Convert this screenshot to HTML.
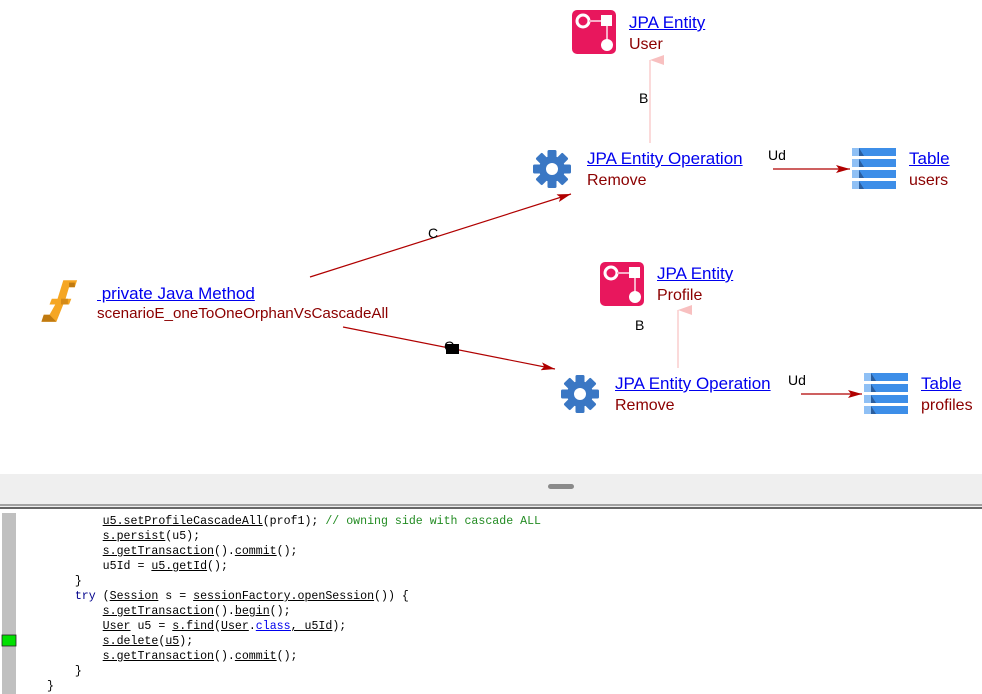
<!DOCTYPE html>
<html><head><meta charset="utf-8"><style>
body{margin:0;width:982px;height:694px;overflow:hidden;background:#fff;position:relative;font-family:"Liberation Sans",sans-serif}
.t{position:absolute;font-size:17px;white-space:nowrap;line-height:20px}
.l{color:#0000ee;text-decoration:underline}
.s{color:#8b0000;font-size:16px}
.el{position:absolute;font-size:14px;color:#000}
.code{position:absolute;font-family:"Liberation Mono",monospace;font-size:11.6px;line-height:15px;white-space:pre;color:#000}
.code u{text-decoration:underline}
</style></head><body>
<svg width="982" height="694" style="position:absolute;left:0;top:0">
<defs>
<marker id="ar" markerWidth="14" markerHeight="8" refX="14" refY="4" orient="auto" markerUnits="userSpaceOnUse"><path d="M0,0 L14,4 L0,8 L3,4 z" fill="#b00000"/></marker>
<marker id="ap" markerWidth="10" markerHeight="14" refX="5" refY="0" orient="auto-start-reverse" markerUnits="userSpaceOnUse"><path d="M0,14 L5,0 L10,14 z" fill="#f8c0c0"/></marker>
<g id="gear"><circle r="13" fill="#3a77c4"/>
<g fill="#3a77c4"><rect x="-4.5" y="-19" width="9" height="38" rx="1.5"/><rect x="-4.5" y="-19" width="9" height="38" rx="1.5" transform="rotate(45)"/><rect x="-4.5" y="-19" width="9" height="38" rx="1.5" transform="rotate(90)"/><rect x="-4.5" y="-19" width="9" height="38" rx="1.5" transform="rotate(135)"/></g>
<circle r="6" fill="#fff"/></g>
<g id="ent"><rect width="44" height="44" rx="5" fill="#e8175d"/><circle cx="11" cy="11" r="6" fill="none" stroke="#fff" stroke-width="3"/><rect x="29" y="5" width="11" height="11" fill="#fff"/><line x1="17" y1="11" x2="29" y2="11" stroke="#f8b0c8" stroke-width="2"/><line x1="35" y1="16" x2="35" y2="30" stroke="#f8b0c8" stroke-width="2"/><circle cx="35" cy="35" r="6" fill="#fff"/></g>
<g id="tab"><g><rect x="0" y="0" width="7" height="8" fill="#8fc0f5"/><rect x="7" y="0" width="37" height="8" fill="#3d8ee8"/><path d="M7,0 L12,8 L7,8z" fill="#2b5e9e"/></g>
<g transform="translate(0,11)"><rect x="0" y="0" width="7" height="8" fill="#8fc0f5"/><rect x="7" y="0" width="37" height="8" fill="#3d8ee8"/><path d="M7,0 L12,8 L7,8z" fill="#2b5e9e"/></g>
<g transform="translate(0,22)"><rect x="0" y="0" width="7" height="8" fill="#8fc0f5"/><rect x="7" y="0" width="37" height="8" fill="#3d8ee8"/><path d="M7,0 L12,8 L7,8z" fill="#2b5e9e"/></g>
<g transform="translate(0,33)"><rect x="0" y="0" width="7" height="8" fill="#8fc0f5"/><rect x="7" y="0" width="37" height="8" fill="#3d8ee8"/><path d="M7,0 L12,8 L7,8z" fill="#2b5e9e"/></g></g>
</defs>
<line x1="310" y1="277" x2="571" y2="194" stroke="#b00000" stroke-width="1.2" marker-end="url(#ar)"/>
<line x1="343" y1="327" x2="555" y2="369" stroke="#b00000" stroke-width="1.2" marker-end="url(#ar)"/>
<line x1="773" y1="169" x2="850" y2="169" stroke="#b00000" stroke-width="1.2" marker-end="url(#ar)"/>
<line x1="801" y1="394" x2="862" y2="394" stroke="#b00000" stroke-width="1.2" marker-end="url(#ar)"/>
<line x1="650" y1="143" x2="650" y2="60" stroke="#f8c0c0" stroke-width="1.2" marker-end="url(#ap)"/>
<line x1="678" y1="368" x2="678" y2="310" stroke="#f8c0c0" stroke-width="1.2" marker-end="url(#ap)"/>
<rect x="446" y="344" width="13" height="10" fill="#000"/>
<use href="#gear" x="552" y="169"/>
<use href="#gear" x="580" y="394"/>
<use href="#ent" x="572" y="10"/>
<use href="#ent" x="600" y="262"/>
<use href="#tab" x="852" y="148"/>
<use href="#tab" x="864" y="373"/>
<g transform="translate(38,278) scale(1.15)"><path d="M22,2 L34,2 L32,8 L27,8 L24,18 L29,18 L27,23 L22,23 L16,38 L3,38 L5,32 L10,32 L15,23 L10,23 L12,18 L17,18 z" fill="#f5a623"/><path d="M16,38 L3,38 L5,32 L10,32 z" fill="#c07a10"/><rect x="27" y="4" width="5" height="4" fill="#c07a10"/><rect x="20" y="18" width="6" height="5" fill="#c07a10" opacity="0.6"/></g>
<rect x="0" y="474" width="982" height="33" fill="#efefef"/>
<rect x="548" y="484" width="26" height="5" rx="2.5" fill="#8a8a8a"/>
<line x1="0" y1="505" x2="982" y2="505" stroke="#555" stroke-width="1"/>
<line x1="0" y1="508" x2="982" y2="508" stroke="#333" stroke-width="1.5"/>
<rect x="2" y="513" width="14" height="181" fill="#c0c0c0"/>
<rect x="2" y="635" width="14" height="11" fill="#00e000" stroke="#222" stroke-width="0.8"/>
</svg>
<div class="t" style="left:629px;top:13px"><span class="l">JPA Entity</span></div>
<div class="t s" style="left:629px;top:35px">User</div>
<div class="t" style="left:587px;top:149px"><span class="l">JPA Entity Operation</span></div>
<div class="t s" style="left:587px;top:171px">Remove</div>
<div class="t" style="left:909px;top:149px"><span class="l">Table</span></div>
<div class="t s" style="left:909px;top:171px">users</div>
<div class="t" style="left:657px;top:264px"><span class="l">JPA Entity</span></div>
<div class="t s" style="left:657px;top:286px">Profile</div>
<div class="t" style="left:615px;top:374px"><span class="l">JPA Entity Operation</span></div>
<div class="t s" style="left:615px;top:396px">Remove</div>
<div class="t" style="left:921px;top:374px"><span class="l">Table</span></div>
<div class="t s" style="left:921px;top:396px">profiles</div>
<div class="t" style="left:97px;top:284px"><span class="l">&nbsp;private Java Method</span></div>
<div class="t s" style="left:97px;top:304px;font-size:15.2px">scenarioE_oneToOneOrphanVsCascadeAll</div>
<div class="el" style="left:639px;top:90px">B</div>
<div class="el" style="left:635px;top:317px">B</div>
<div class="el" style="left:428px;top:225px">C</div>
<div class="el" style="left:444px;top:338px">C</div>
<div class="el" style="left:768px;top:147px">Ud</div>
<div class="el" style="left:788px;top:372px">Ud</div>
<div class="code" style="left:47px;top:514px">        <u>u5.setProfileCascadeAll</u>(prof1); <span style="color:#228b22">// owning side with cascade ALL</span>
        <u>s.persist</u>(u5);
        <u>s.getTransaction</u>().<u>commit</u>();
        u5Id = <u>u5.getId</u>();
    }
    <span style="color:#00008b">try</span> (<u>Session</u> s = <u>sessionFactory.openSession</u>()) {
        <u>s.getTransaction</u>().<u>begin</u>();
        <u>User</u> u5 = <u>s.find</u>(<u>User</u>.<u style="color:#0000ee">class</u><u>, u5Id</u>);
        <u>s.delete</u>(<u>u5</u>);
        <u>s.getTransaction</u>().<u>commit</u>();
    }
}</div>
</body></html>
